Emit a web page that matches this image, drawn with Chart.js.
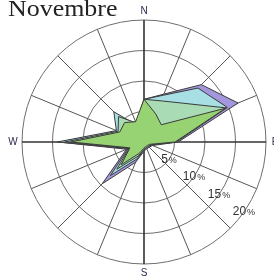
<!DOCTYPE html>
<html>
<head>
<meta charset="utf-8">
<script src="https://cdn.jsdelivr.net/npm/chart.js@4"></script>
<style>
  html, body { margin: 0; padding: 0; background: #fff; }
  #wrap { position: relative; width: 274px; height: 279px; overflow: hidden; }
  #title {
    position: absolute; left: 8px; top: -5px;
    font-family: "Liberation Serif", serif; font-size: 24px; color: #222;
    transform: scaleX(1.08); transform-origin: left top; white-space: nowrap;
  }
  canvas { position: absolute; left: 0; top: 0; }
</style>
</head>
<body>
<div id="wrap">
  <canvas id="rose" width="274" height="279"></canvas>
  <div id="title">Novembre</div>
</div>
<script>
// 16 wind directions, clockwise from north
const directions = ['N', 'NNE', 'NE', 'ENE', 'E', 'ESE', 'SE', 'SSE',
                    'S', 'SSW', 'SW', 'WSW', 'W', 'WNW', 'NW', 'NNW'];
const cardinals = { 0: 'N', 4: 'E', 8: 'S', 12: 'W' };
const ringTicks = [5, 10, 15, 20];

// frequencies (%) per direction
const purpleValues = [7.0, 8.5, 13.3, 16.7, 5.6, 1.5, 1.2, 1.2, 1.5, 3.6, 9.7, 3.1, 14.0, 4.6, 6.5, 2.8];
const blueValues   = [7.0, 8.3, 12.5, 14.8, 5.3, 1.3, 1.0, 1.0, 1.3, 3.0, 7.8, 2.8, 14.2, 4.9, 7.0, 3.0];
const mintValues   = [7.0, 7.3, 9.0, 14.6, 5.1, 1.2, 1.0, 1.0, 1.2, 2.5, 6.3, 2.6, 13.0, 4.6, 5.9, 3.4];
const greenValues  = [7.0, 5.0, 4.0, 14.5, 5.1, 1.0, 0.8, 0.8, 1.0, 2.0, 5.3, 2.5, 12.0, 4.3, 4.5, 3.6];

const roseLabels = {
    id: 'roseLabels',
    afterDraw(chart) {
        const r = chart.scales.r;
        const ctx = chart.ctx;
        ctx.save();
        ctx.fillStyle = '#2e2a4e';
        ctx.font = '10px "Liberation Sans", sans-serif';
        ctx.textAlign = 'center';
        ctx.textBaseline = 'middle';
        Object.keys(cardinals).forEach(i => {
            const p = r.getPointPosition(+i, r.drawingArea + 9);
            ctx.fillText(cardinals[i], p.x, p.y);
        });
        // percent labels sitting on each ring, towards the south-east
        ctx.fillStyle = '#333';
        ringTicks.forEach(v => {
            const d = r.getDistanceFromCenterForValue(v);
            const a = (125 - 90) * Math.PI / 180;
            const cx = r.xCenter + d * Math.cos(a);
            const cy = r.yCenter + d * Math.sin(a);
            const num = String(v);
            ctx.font = '12px "Liberation Sans", sans-serif';
            const wNum = ctx.measureText(num).width;
            ctx.font = '9px "Liberation Sans", sans-serif';
            const wPct = ctx.measureText('%').width;
            const x0 = cx - (wNum + wPct + 1) / 2;
            ctx.textAlign = 'left';
            ctx.font = '12px "Liberation Sans", sans-serif';
            ctx.fillText(num, x0, cy);
            ctx.font = '9px "Liberation Sans", sans-serif';
            ctx.fillText('%', x0 + wNum + 1, cy + 1);
        });
        ctx.restore();
    }
};

new Chart(document.getElementById('rose'), {
    type: 'radar',
    data: {
        labels: directions,
        datasets: [
            { label: 'green', data: greenValues, backgroundColor: '#97d273' },
            { label: 'mint', data: mintValues, backgroundColor: '#a9dbb4' },
            { label: 'blue', data: blueValues, backgroundColor: '#a8dfe4' },
            { label: 'purple', data: purpleValues, backgroundColor: '#a496dc' }
        ]
    },
    options: {
        responsive: false,
        animation: false,
        devicePixelRatio: 1,
        layout: { padding: { left: 22, right: 8, top: 20, bottom: 14 } },
        elements: {
            line: { tension: 0, borderWidth: 1, borderColor: '#3b3b3b', fill: true },
            point: { radius: 0 }
        },
        plugins: { legend: { display: false }, tooltip: { enabled: false } },
        scales: {
            r: {
                z: 1,
                min: 0,
                max: 20,
                ticks: { display: false, stepSize: 5 },
                pointLabels: { display: false },
                grid: { circular: true, color: '#6e6e6e', lineWidth: 1 },
                angleLines: {
                    color: ctx => (ctx.index % 4 === 0 ? '#333' : '#555'),
                    lineWidth: ctx => (ctx.index % 4 === 0 ? 1.6 : 1)
                }
            }
        }
    },
    plugins: [roseLabels]
});
</script>
</body>
</html>
